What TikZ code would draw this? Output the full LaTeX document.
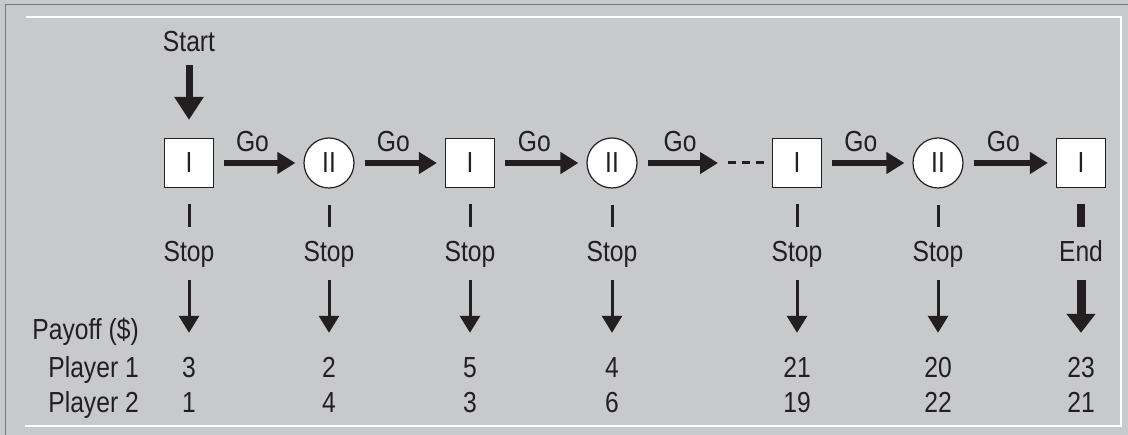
\documentclass[tikz,border=0pt]{standalone}
\usepackage{fontspec}
\setmainfont[FakeStretch=0.85]{Liberation Sans}
\usetikzlibrary{arrows.meta,positioning}
\definecolor{panel}{RGB}{200,201,203}
\definecolor{ink}{RGB}{35,31,32}
\definecolor{rim}{RGB}{120,120,120}
\tikzset{
  player/.style={draw=ink, line width=1.2pt, fill=white, text=ink, inner sep=0pt},
  sqnode/.style={player, rectangle, minimum size=49pt},
  rdnode/.style={player, circle, minimum size=50pt},
  lab/.style={text=ink, inner sep=0pt, text height=19pt, text depth=6pt, anchor=base},
  golab/.style={text=ink, inner sep=0pt, anchor=base, yshift=11pt},
  goarrow/.style={draw=ink, line width=6pt, -{Triangle[width=21pt,length=18pt]}},
  startarrow/.style={draw=ink, line width=7pt, -{Triangle[width=28pt,length=23pt]}},
  stopline/.style={draw=ink, line width=3pt},
  stoparrow/.style={draw=ink, line width=3pt, -{Triangle[width=20pt,length=17pt]}},
  endline/.style={draw=ink, line width=8pt},
  endarrow/.style={draw=ink, line width=9pt, -{Triangle[width=28pt,length=19pt]}},
  dotline/.style={draw=ink, line width=3pt, dash pattern=on 8pt off 6pt}
}
\begin{document}
\begin{tikzpicture}[x=1pt, y=-1pt, font=\fontsize{29}{34}\selectfont]
	% Frame
	\useasboundingbox (0,0) rectangle (1128,435);
	\fill[panel] (0,0) rectangle (1128,435);
	\draw[rim, line width=1.5pt] (5.5,435) -- (5.5,4.5) -- (1128,4.5);
	\draw[white, line width=2pt] (26,17) -- (1121,17) -- (1121,426) -- (25,426);
	
	% Decision nodes
	\def\row{163}
	\node[sqnode] (n1) at (189,\row) {I};
	\node[rdnode] (n2) at (329,\row) {II};
	\node[sqnode] (n3) at (470,\row) {I};
	\node[rdnode] (n4) at (612,\row) {II};
	\node[sqnode] (n5) at (797,\row) {I};
	\node[rdnode] (n6) at (938,\row) {II};
	\node[sqnode] (n7) at (1081,\row) {I};
	
	% Start
	\node[lab] (start) at (189,52) {Start};
	\draw[startarrow, shorten <=7pt, shorten >=18pt] (start) -- (n1);
	
	% Go moves
	\foreach \a/\b in {1/2,2/3,3/4,5/6,6/7}
	\draw[goarrow, shorten <=10pt, shorten >=8pt] (n\a) -- node[golab, pos=0.43] (g\a) {Go} (n\b);
	\coordinate (dots) at (728,\row);
	\draw[goarrow, shorten <=10pt, shorten >=10pt] (n4) -- node[golab, pos=0.47] (g4) {Go} (dots);
	\draw[dotline, shorten >=8pt] (dots) -- (n5);
	
	% Row labels
	\node[lab, anchor=base east] (payoff) at (139,340) {Payoff (\$)};
	\node[lab, anchor=base east] (pone) at (139,378) {Player 1};
	\node[lab, anchor=base east] (ptwo) at (139,413) {Player 2};
	
	% Stop moves and payoffs
	\foreach \i/\x/\ta/\tb in {1/189/3/1, 2/329/2/4, 3/470/5/3, 4/612/4/6, 5/797/21/19, 6/938/20/22}{
		\node[lab] (s\i) at (\x,262) {Stop};
		\node[lab] (a\i) at (\x,378) {\ta};
		\node[lab] (b\i) at (\x,413) {\tb};
		\draw[stopline, shorten <=16pt, shorten >=16pt] (n\i) -- (s\i);
		\draw[stoparrow, shorten <=12pt, shorten >=26pt] (s\i) -- (a\i);
	}
	
	% End
	\node[lab] (s7) at (1081,262) {End};
	\node[lab] (a7) at (1081,378) {23};
	\node[lab] (b7) at (1081,413) {21};
	\draw[endline, shorten <=16pt, shorten >=16pt] (n7) -- (s7);
	\draw[endarrow, shorten <=12pt, shorten >=26pt] (s7) -- (a7);
\end{tikzpicture}
\end{document}
